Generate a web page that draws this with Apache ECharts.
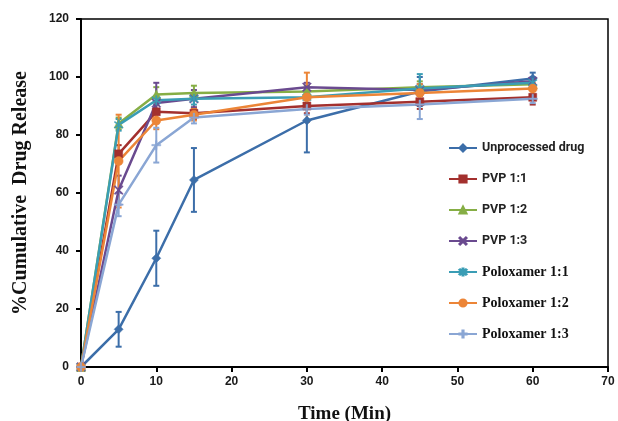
<!DOCTYPE html>
<html>
<head>
<meta charset="utf-8">
<script src="https://cdn.jsdelivr.net/npm/echarts@6/dist/echarts.min.js"></script>
<style>
  html, body { margin: 0; padding: 0; background: #fff; }
  #chart { width: 618px; height: 421px; }
</style>
</head>
<body>
<div id="chart"></div>
<script>
// Sampling times (min)
const times = [0, 5, 10, 15, 30, 45, 60];

// Mean cumulative release (%) per formulation
const unprocessed = [0, 13, 37.5, 64.5, 85, 95, 99.5];
const pvp11       = [0, 73.5, 88, 87.5, 90, 91.5, 93];
const pvp12       = [0, 84, 94, 94.5, 95, 96.5, 97.5];
const pvp13       = [0, 61, 91, 92.5, 96.5, 95.5, 98.5];
const polox11     = [0, 83.5, 92, 92.5, 93, 96, 98];
const polox12     = [0, 71, 85, 87, 93, 94.5, 96];
const polox13     = [0, 56, 76.5, 86, 89, 90.5, 92.5];

// Standard deviations (±) per formulation
const unprocessedSD = [0, 6, 9.5, 11, 11, 5, 2];
const pvp11SD       = [0, 3, 2.5, 2, 2.5, 2.5, 2.5];
const pvp12SD       = [0, 2, 2.5, 2.5, 2, 2, 1.5];
const pvp13SD       = [0, 5, 7, 3, 1.5, 2, 1.5];
const polox11SD     = [0, 2, 1.5, 2, 2, 5, 1.5];
const polox12SD     = [0, 16, 3, 2, 8.5, 3, 2];
const polox13SD     = [0, 4, 6, 2, 2, 5, 1.5];

// Axis ticks
const xTicks = [0, 10, 20, 30, 40, 50, 60, 70];
const yTicks = [0, 20, 40, 60, 80, 100, 120];

const seriesNames = ['Unprocessed drug', 'PVP 1:1', 'PVP 1:2', 'PVP 1:3',
                     'Poloxamer 1:1', 'Poloxamer 1:2', 'Poloxamer 1:3'];

// Marker shapes
const xMark = 'path://M1,0L5,4L9,0L10,1L6,5L10,9L9,10L5,6L1,10L0,9L4,5L0,1Z';
const starMark = 'path://M1,0L5,4L9,0L10,1L6,5L10,9L9,10L5,6L1,10L0,9L4,5L0,1Z M4.3,-1.5h1.4v13h-1.4Z';
const plusMark = 'path://M4.2,0h1.6v4.2h4.2v1.6h-4.2v4.2h-1.6v-4.2h-4.2v-1.6h4.2Z';

const styles = [
  { color: '#3c6ea9', symbol: 'diamond', size: 9 },
  { color: '#a3302e', symbol: 'rect', size: 8 },
  { color: '#86ae45', symbol: 'triangle', size: 9 },
  { color: '#6a4a8f', symbol: xMark, size: 9 },
  { color: '#3a9db5', symbol: starMark, size: 9 },
  { color: '#ec8537', symbol: 'circle', size: 9 },
  { color: '#8aa6d4', symbol: plusMark, size: 9 }
];

const means = [unprocessed, pvp11, pvp12, pvp13, polox11, polox12, polox13];
const sds = [unprocessedSD, pvp11SD, pvp12SD, pvp13SD, polox11SD, polox12SD, polox13SD];

const sansBold = { fontFamily: 'Liberation Sans', fontWeight: 'bold', fontSize: 12, color: '#1a1a1a' };
const serifBold = { fontFamily: 'Liberation Serif', fontWeight: 'bold', color: '#111' };

// Error bars drawn as a vertical stroke with caps
function errorBarRenderer(color) {
  return function (params, api) {
    const x = api.value(0), y = api.value(1), e = api.value(2);
    if (!e) return null;
    const top = api.coord([x, y + e]);
    const bot = api.coord([x, y - e]);
    const cap = 3;
    const st = { stroke: color, lineWidth: 2 };
    return {
      type: 'group',
      children: [
        { type: 'line', shape: { x1: top[0], y1: top[1], x2: bot[0], y2: bot[1] }, style: st },
        { type: 'line', shape: { x1: top[0] - cap, y1: top[1], x2: top[0] + cap, y2: top[1] }, style: st },
        { type: 'line', shape: { x1: bot[0] - cap, y1: bot[1], x2: bot[0] + cap, y2: bot[1] }, style: st }
      ]
    };
  };
}

const series = [];
seriesNames.forEach(function (name, i) {
  const s = styles[i];
  series.push({
    name: name,
    type: 'line',
    data: times.map(function (t, k) { return [t, means[i][k]]; }),
    symbol: s.symbol,
    symbolSize: s.size,
    showAllSymbol: true,
    lineStyle: { color: s.color, width: 2.5 },
    itemStyle: { color: s.color, borderColor: s.color, borderWidth: 0.5 },
    z: 3
  });
});
seriesNames.forEach(function (name, i) {
  const s = styles[i];
  series.push({
    name: name + ' SD',
    type: 'custom',
    renderItem: errorBarRenderer(s.color),
    data: times.map(function (t, k) { return [t, means[i][k], sds[i][k]]; }),
    z: 2,
    silent: true
  });
});

const legendData = seriesNames.map(function (name, i) {
  const serif = i >= 4;
  return {
    name: name,
    textStyle: serif
      ? { fontFamily: 'Liberation Serif', fontWeight: 'bold', fontSize: 14, lineHeight: 14, color: '#111' }
      : { fontFamily: 'Roboto', fontWeight: 'bold', fontSize: 12.5, lineHeight: 14, color: '#222' }
  };
});

const chart = echarts.init(document.getElementById('chart'), null, { renderer: 'canvas' });
chart.setOption({
  backgroundColor: '#fff',
  animation: false,
  grid: {
    left: 81, right: 10, top: 19, bottom: 54,
    outerBoundsMode: 'none',
    containLabel: false,
    show: true, borderColor: '#000', borderWidth: 1.5, backgroundColor: 'transparent'
  },
  legend: {
    orient: 'vertical',
    left: 443, top: 136,
    itemWidth: 28, itemHeight: 9, itemGap: 17,
    data: legendData,
    selectedMode: false
  },
  xAxis: {
    type: 'value',
    min: xTicks[0], max: xTicks[xTicks.length - 1], interval: 10,
    name: 'Time (Min)',
    nameLocation: 'middle', nameGap: 38,
    nameTextStyle: Object.assign({ fontSize: 19 }, serifBold),
    axisLine: { show: true, onZero: false, lineStyle: { color: '#000', width: 2 } },
    axisTick: { show: true, inside: false, length: 5, lineStyle: { color: '#000', width: 2 } },
    axisLabel: Object.assign({ margin: 9 }, sansBold),
    splitLine: { show: false }
  },
  yAxis: {
    type: 'value',
    min: yTicks[0], max: yTicks[yTicks.length - 1], interval: 20,
    name: '%Cumulative  Drug Release',
    nameLocation: 'middle', nameGap: 50,
    nameTextStyle: Object.assign({ fontSize: 20 }, serifBold),
    axisLine: { show: true, onZero: false, lineStyle: { color: '#000', width: 2 } },
    axisTick: { show: true, inside: false, length: 5, lineStyle: { color: '#000', width: 2 } },
    axisLabel: Object.assign({ margin: 12 }, sansBold),
    splitLine: { show: false }
  },
  series: series
});
</script>
</body>
</html>
